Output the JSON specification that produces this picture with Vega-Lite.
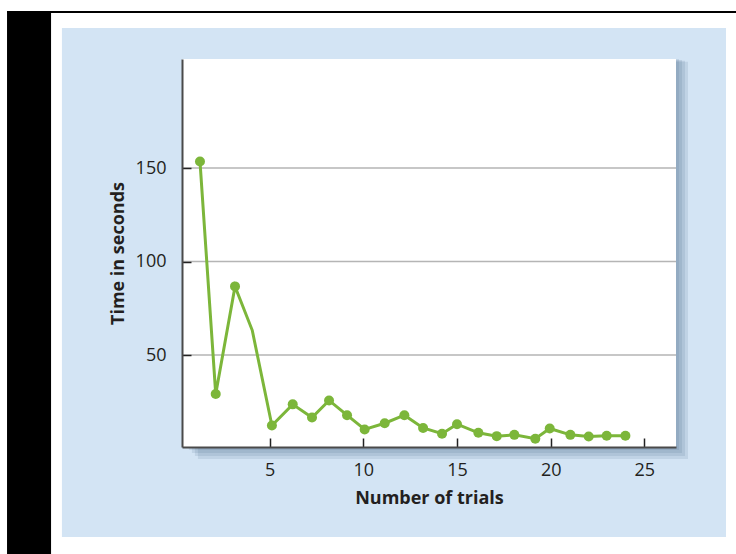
{
  "$schema": "https://vega.github.io/schema/vega-lite/v6.json",
  "autosize": {"type": "none"},
  "padding": {"left": 182, "top": 59, "right": 60, "bottom": 107},
  "width": 494,
  "height": 388,
  "background": "#ffffff",
  "config": {
    "view": {"stroke": null},
    "font": "Open Sans",
    "axis": {
      "labelFont": "Open Sans",
      "labelFontSize": 18,
      "labelColor": "#231f20",
      "titleFont": "Open Sans",
      "titleFontSize": 18,
      "titleFontWeight": "bold",
      "titleColor": "#231f20",
      "domainColor": "#4a4a4a",
      "domainWidth": 2,
      "tickColor": "#222222",
      "tickWidth": 1.5,
      "grid": false
    }
  },
  "data": {
    "values": [
      {"trial": 1.28, "time": 153.5},
      {"trial": 2.12, "time": 29.1},
      {"trial": 3.15, "time": 86.7},
      {"trial": 4.07, "time": 63.2},
      {"trial": 5.12, "time": 12.3},
      {"trial": 6.23, "time": 23.6},
      {"trial": 7.26, "time": 16.6},
      {"trial": 8.17, "time": 25.7},
      {"trial": 9.13, "time": 17.8},
      {"trial": 10.07, "time": 10.2},
      {"trial": 11.14, "time": 13.5},
      {"trial": 12.19, "time": 17.8},
      {"trial": 13.19, "time": 11.0},
      {"trial": 14.2, "time": 7.9},
      {"trial": 15.0, "time": 13.0},
      {"trial": 16.14, "time": 8.4},
      {"trial": 17.12, "time": 6.6},
      {"trial": 18.06, "time": 7.3},
      {"trial": 19.18, "time": 5.2},
      {"trial": 19.95, "time": 10.7},
      {"trial": 21.05, "time": 7.3},
      {"trial": 22.03, "time": 6.4},
      {"trial": 22.99, "time": 6.8},
      {"trial": 23.99, "time": 6.8}
    ]
  },
  "layer": [
    {
      "data": {"values": [{}]},
      "mark": {"type": "rect", "fill": "#000000"},
      "encoding": {
        "x": {"datum": -9.02, "type": "quantitative"},
        "x2": {"datum": -6.67},
        "y": {"datum": 233.97, "type": "quantitative"},
        "y2": {"datum": -56.4}
      }
    },
    {
      "data": {"values": [{}]},
      "mark": {"type": "rect", "fill": "#000000"},
      "encoding": {
        "x": {"datum": -9.02, "type": "quantitative"},
        "x2": {"datum": 29.9},
        "y": {"datum": 233.97, "type": "quantitative"},
        "y2": {"datum": 232.9}
      }
    },
    {
      "data": {"values": [{}]},
      "mark": {"type": "rect", "fill": "#d3e4f4"},
      "encoding": {
        "x": {"datum": -6.09, "type": "quantitative"},
        "x2": {"datum": 29.36},
        "y": {"datum": 224.9, "type": "quantitative"},
        "y2": {"datum": -47.3}
      }
    },
    {
      "data": {"values": [{}]},
      "mark": {"type": "rect", "fill": "#3d5a78", "fillOpacity": 0.12},
      "encoding": {
        "x": {"datum": 1.17, "type": "quantitative"},
        "x2": {"datum": 27.33},
        "y": {"datum": 206.8, "type": "quantitative"},
        "y2": {"datum": -5.6}
      }
    },
    {
      "data": {"values": [{}]},
      "mark": {"type": "rect", "fill": "#3d5a78", "fillOpacity": 0.12},
      "encoding": {
        "x": {"datum": 1.01, "type": "quantitative"},
        "x2": {"datum": 27.17},
        "y": {"datum": 207.3, "type": "quantitative"},
        "y2": {"datum": -4.0}
      }
    },
    {
      "data": {"values": [{}]},
      "mark": {"type": "rect", "fill": "#3d5a78", "fillOpacity": 0.12},
      "encoding": {
        "x": {"datum": 0.85, "type": "quantitative"},
        "x2": {"datum": 27.01},
        "y": {"datum": 207.8, "type": "quantitative"},
        "y2": {"datum": -2.41}
      }
    },
    {
      "data": {"values": [{}]},
      "mark": {"type": "rect", "fill": "#3d5a78", "fillOpacity": 0.12},
      "encoding": {
        "x": {"datum": 0.69, "type": "quantitative"},
        "x2": {"datum": 26.85},
        "y": {"datum": 208.3, "type": "quantitative"},
        "y2": {"datum": -0.8}
      }
    },
    {
      "data": {"values": [{}]},
      "mark": {"type": "rect", "fill": "#ffffff"},
      "encoding": {
        "x": {"datum": 0.32, "type": "quantitative"},
        "x2": {"datum": 26.69},
        "y": {"datum": 208.3, "type": "quantitative"},
        "y2": {"datum": 0.8}
      }
    },
    {
      "data": {"values": [{"level": 50}, {"level": 100}, {"level": 150}]},
      "mark": {"type": "rule", "color": "#b5b5b5", "strokeWidth": 1.5},
      "encoding": {
        "y": {"field": "level", "type": "quantitative"}
      }
    },
    {
      "mark": {"type": "line", "color": "#7cb63a", "strokeWidth": 3},
      "encoding": {
        "x": {
          "field": "trial",
          "type": "quantitative",
          "scale": {"domain": [0.32, 26.69], "nice": false, "zero": false},
          "axis": {"values": [5, 10, 15, 20, 25], "title": "Number of trials", "tickSize": -9, "labelPadding": 23, "titlePadding": 10, "zindex": 1}
        },
        "y": {
          "field": "time",
          "type": "quantitative",
          "scale": {"domain": [0.8, 208.3], "nice": false, "zero": false},
          "axis": {"values": [50, 100, 150], "title": "Time in seconds", "tickSize": -9, "labelPadding": 25, "titlePadding": 8, "zindex": 1}
        }
      }
    },
    {
      "transform": [{"filter": "datum.trial < 4 || datum.trial > 5"}],
      "mark": {"type": "point", "filled": true, "color": "#7cb63a", "opacity": 1, "size": 100},
      "encoding": {
        "x": {"field": "trial", "type": "quantitative"},
        "y": {"field": "time", "type": "quantitative"}
      }
    }
  ]
}
